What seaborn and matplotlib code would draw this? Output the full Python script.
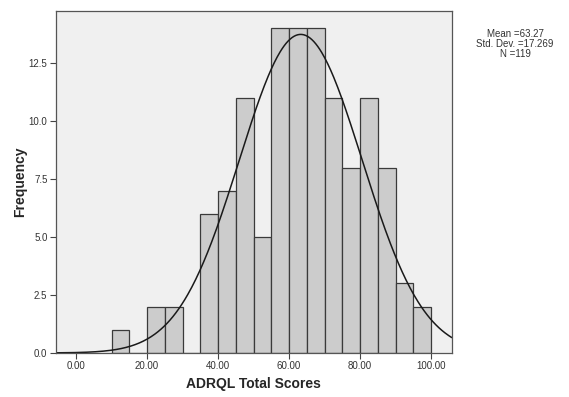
"""Histograma ADRQL com curva normal ajustada."""

import matplotlib
matplotlib.use("Agg")
import matplotlib.pyplot as plt
import numpy as np
import seaborn as sns

# dados
bin_edges = [10, 15, 20, 25, 30, 35, 40, 45, 50, 55, 60, 65, 70, 75, 80, 85, 90, 95, 100]
counts = [1, 0, 2, 2, 0, 6, 7, 11, 5, 14, 14, 14, 11, 8, 11, 8, 3, 2]
mean = 63.27
std_dev = 17.269
n_total = 119
x_ticks = [0, 20, 40, 60, 80, 100]
y_ticks = [0.0, 2.5, 5.0, 7.5, 10.0, 12.5]

sns.set_style("white")
plt.rcParams["font.family"] = ["Liberation Sans", "DejaVu Sans"]

fig = plt.figure(figsize=(5.69, 3.97), dpi=100)
ax = fig.add_axes([0.098, 0.111, 0.696, 0.861])
ax.set_facecolor("#F0F0F0")

centers = [(a + b) / 2 for a, b in zip(bin_edges[:-1], bin_edges[1:])]
sns.histplot(
    x=centers,
    weights=counts,
    bins=bin_edges,
    color="#CCCCCC",
    edgecolor="#3A3A3A",
    linewidth=0.9,
    alpha=1,
    ax=ax,
)

# curva normal escalada para as frequencias
bin_width = bin_edges[1] - bin_edges[0]
xs = np.linspace(-5.7, 105.8, 400)
ys = n_total * bin_width * np.exp(-0.5 * ((xs - mean) / std_dev) ** 2) / (std_dev * np.sqrt(2 * np.pi))
sns.lineplot(x=xs, y=ys, color="#1A1A1A", linewidth=1.1, ax=ax)

ax.set_xlim(-5.7, 105.8)
ax.set_ylim(0, 14.75)
ax.set_xticks(x_ticks)
ax.set_xticklabels([f"{t:.2f}" for t in x_ticks], fontsize=7, color="#333333")
ax.set_yticks(y_ticks)
ax.set_yticklabels([f"{t:.1f}" for t in y_ticks], fontsize=7, color="#333333")
ax.tick_params(axis="both", direction="out", length=4, width=0.8, color="#444444", pad=2, left=True, bottom=True)
for sp in ax.spines.values():
    sp.set_color("#555555")
    sp.set_linewidth(0.9)

ax.set_xlabel("ADRQL Total Scores", fontsize=10, fontweight="bold", labelpad=4)
ax.set_ylabel("Frequency", fontsize=10, fontweight="bold", labelpad=1)

fig.text(
    0.905, 0.888,
    f"Mean ={mean:.2f}\nStd. Dev. ={std_dev:.3f}\nN ={n_total}",
    ha="center", va="center", fontsize=7, color="#333333", linespacing=1.0,
)

fig.savefig("out.png", dpi=100)
plt.close(fig)
